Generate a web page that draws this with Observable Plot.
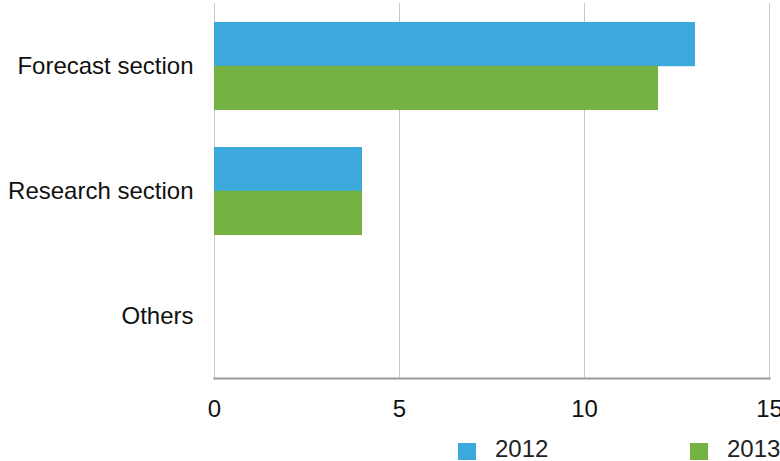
<!DOCTYPE html>
<html>
<head>
<meta charset="utf-8">
<script src="https://cdn.jsdelivr.net/npm/d3@7"></script>
<script src="https://cdn.jsdelivr.net/npm/@observablehq/plot@0.6"></script>
<style>
  html, body { margin: 0; padding: 0; background: #fff; }
  #wrap { position: relative; width: 780px; height: 461px; overflow: hidden; font-family: "Liberation Sans", Arial, Helvetica, sans-serif; }
  #legend { position: absolute; left: 0; top: 0; width: 780px; height: 461px; pointer-events: none; }
  .sw { position: absolute; width: 18px; height: 17px; }
  .lt { position: absolute; font-size: 24px; line-height: 24px; color: #222; white-space: nowrap; }
</style>
</head>
<body>
<div id="wrap"><div id="chart"></div><div id="legend"></div></div>
<script>
const categories = ["Forecast section", "Research section", "Others"];
const years = ["2012", "2013"];
const values2012 = [13, 4, 0];
const values2013 = [12, 4, 0];
const xTicks = [0, 5, 10, 15];
const colors = ["#3ca9dd", "#74b244"];

const data = [];
categories.forEach((c, i) => {
  data.push({category: c, year: years[0], value: values2012[i]});
  data.push({category: c, year: years[1], value: values2013[i]});
});

const marginTop = 3, height = 430, marginBottom = 52;
const yRange = height - marginTop - marginBottom;
const step = yRange / 3;
const half = step * (1 - 0.3) / 2;

const chart = Plot.plot({
  width: 780,
  height: height,
  marginTop: marginTop,
  marginBottom: marginBottom,
  marginLeft: 214,
  marginRight: 11,
  style: {fontFamily: "'Liberation Sans', Arial, Helvetica, sans-serif", fontSize: "24px", color: "#111", background: "#fff"},
  x: {domain: [0, 15], ticks: xTicks},
  y: {domain: categories, paddingInner: 0.3, paddingOuter: 0.15},
  color: {domain: years, range: colors},
  marks: [
    Plot.gridX(xTicks, {stroke: "#c8c8c8", strokeOpacity: 1, strokeWidth: 1}),
    Plot.barX(data.filter(d => d.year === years[0]), {x: "value", y: "category", fill: "year", insetBottom: half}),
    Plot.barX(data.filter(d => d.year === years[1]), {x: "value", y: "category", fill: "year", insetTop: half}),
    Plot.frame({anchor: "bottom", stroke: "#9a9a9a", strokeWidth: 2}),
    Plot.axisX(xTicks, {tickSize: 0, tickPadding: 21, fontSize: 24, label: null, fill: "#111"}),
    Plot.axisY({tickSize: 0, tickPadding: 21, fontSize: 24, label: null, fill: "#111"})
  ]
});
document.getElementById("chart").appendChild(chart);

const legend = document.getElementById("legend");
const items = [
  {label: years[0], color: colors[0], sx: 458, tx: 495},
  {label: years[1], color: colors[1], sx: 690, tx: 727}
];
items.forEach(it => {
  const s = document.createElement("div");
  s.className = "sw";
  s.style.left = it.sx + "px";
  s.style.top = "443px";
  s.style.background = it.color;
  legend.appendChild(s);
  const t = document.createElement("div");
  t.className = "lt";
  t.style.left = it.tx + "px";
  t.style.top = "437px";
  t.textContent = it.label;
  legend.appendChild(t);
});
</script>
</body>
</html>
